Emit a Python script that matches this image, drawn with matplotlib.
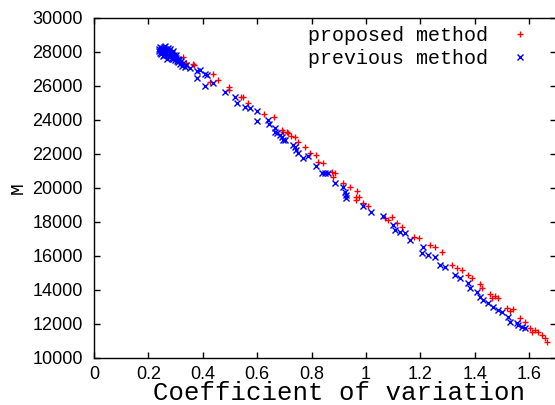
import matplotlib
matplotlib.use("Agg")
import matplotlib.pyplot as plt

# proposed method (red +)
prop_x = [0.305, 0.31, 0.322, 0.326, 0.337, 0.365, 0.368, 0.428, 0.439, 0.457,
          0.495, 0.498, 0.540, 0.549, 0.567, 0.626, 0.662, 0.690, 0.696, 0.708,
          0.714, 0.726, 0.739, 0.751, 0.775, 0.794, 0.818, 0.824, 0.843, 0.874,
          0.879, 0.886, 0.916, 0.941, 0.963, 0.965, 0.968, 0.975, 0.990, 1.008,
          1.070, 1.082, 1.095, 1.113, 1.131, 1.176, 1.196, 1.235, 1.254, 1.278,
          1.315, 1.333, 1.352, 1.376, 1.388, 1.419, 1.425, 1.456, 1.462, 1.474,
          1.486, 1.517, 1.529, 1.541, 1.566, 1.584, 1.603, 1.609, 1.621, 1.633,
          1.646, 1.658, 1.664]
prop_y = [27650, 27500, 27350, 27725, 27370, 27290, 27235, 26250, 26700, 26350,
          25765, 25920, 25335, 25370, 24980, 24350, 24160, 23410, 23310, 23310,
          23220, 23060, 23020, 22720, 22430, 22080, 21940, 21550, 21450, 20960,
          20630, 20900, 20275, 20040, 19490, 19295, 19840, 19490, 19135, 18940,
          18220, 18120, 18280, 17925, 17725, 17135, 17040, 16645, 16550, 16220,
          15470, 15275, 15180, 14880, 14690, 14335, 14100, 13750, 13510, 13665,
          13550, 12960, 12765, 12880, 12370, 12135, 11785, 11510, 11645, 11550,
          11355, 11160, 10960]

# previous method (blue x)
prev_x = [0.238, 0.240, 0.242, 0.244, 0.246, 0.248, 0.250, 0.252, 0.254, 0.256,
          0.258, 0.260, 0.262, 0.264, 0.266, 0.268, 0.270, 0.272, 0.274, 0.276,
          0.278, 0.280, 0.282, 0.284, 0.286, 0.288, 0.290, 0.292, 0.294, 0.296,
          0.298, 0.300, 0.303, 0.305, 0.308, 0.310, 0.313, 0.316, 0.320, 0.324,
          0.328, 0.333, 0.338, 0.262, 0.275, 0.285, 0.255, 0.268,
          0.353, 0.377, 0.378, 0.390, 0.408, 0.408, 0.414, 0.439, 0.482, 0.518,
          0.524, 0.555, 0.573, 0.601, 0.601, 0.641, 0.645, 0.665, 0.665, 0.674,
          0.684, 0.690, 0.696, 0.702, 0.733, 0.739, 0.743, 0.751, 0.769, 0.788,
          0.818, 0.837, 0.849, 0.861, 0.886, 0.914, 0.922, 0.926, 0.928, 0.990,
          1.020, 1.064, 1.101, 1.107, 1.125, 1.144, 1.162, 1.205, 1.211, 1.229,
          1.254, 1.272, 1.291, 1.327, 1.346, 1.376, 1.382, 1.407, 1.419, 1.431,
          1.450, 1.468, 1.486, 1.499, 1.523, 1.529, 1.554, 1.560, 1.572, 1.584]
prev_y = [28050, 28200, 27950, 28300, 28100, 27900, 28250, 28000, 28150, 27850,
          28300, 28050, 27950, 28200, 27800, 28100, 27900, 28250, 27700, 28000,
          27850, 28150, 27750, 27950, 27650, 27850, 28050, 27600, 27800, 27700,
          27500, 27650, 27800, 27450, 27600, 27400, 27550, 27300, 27450, 27200,
          27350, 27100, 27250, 28350, 28050, 27950, 27750, 27600,
          27060, 26865, 26470, 26940, 26700, 26000, 26650, 26200, 25665, 25370,
          24980, 24780, 24690, 24530, 23960, 24000, 23765, 23510, 23310, 23220,
          23120, 23020, 22825, 22825, 22530, 22430, 22235, 22040, 21745, 21880,
          21295, 20900, 20865, 20900, 20310, 20040, 19780, 19590, 19395, 18940,
          18610, 18350, 17820, 17530, 17430, 17335, 16940, 16160, 16550, 16060,
          15960, 15470, 15370, 14880, 14690, 14395, 14135, 13900, 13610, 13410,
          13220, 13020, 12825, 12690, 12430, 12135, 12040, 11940, 11845, 11750]

x_ticks = [0, 0.2, 0.4, 0.6, 0.8, 1, 1.2, 1.4, 1.6]
x_tick_labels = ["0", "0.2", "0.4", "0.6", "0.8", "1", "1.2", "1.4", "1.6"]
y_ticks = [10000, 12000, 14000, 16000, 18000, 20000, 22000, 24000, 26000, 28000, 30000]

fig = plt.figure(figsize=(5.55, 4.05), dpi=100)
ax = fig.add_axes([94/555, 1 - 358/405, (556.4 - 94)/555, (358 - 18)/405])

ax.plot(prop_x, prop_y, linestyle="none", marker="+", color="#ff0000",
        markersize=5, markeredgewidth=1.0, label="proposed method")
ax.plot(prev_x, prev_y, linestyle="none", marker="x", color="#0000ff",
        markersize=4.5, markeredgewidth=1.0, label="previous method")

ax.set_xlim(0, 1.7)
ax.set_ylim(10000, 30000)
ax.set_xticks(x_ticks)
ax.set_xticklabels(x_tick_labels)
ax.set_yticks(y_ticks)
ax.set_yticklabels([str(v) for v in y_ticks])

for lab in ax.get_xticklabels() + ax.get_yticklabels():
    lab.set_fontfamily("Liberation Sans")
    lab.set_fontsize(13)

ax.tick_params(direction="in", length=4, width=1, top=True, right=True,
               colors="black")
ax.tick_params(axis="x", pad=6)
ax.tick_params(axis="y", pad=8)
for sp in ax.spines.values():
    sp.set_linewidth(1.0)

ax.set_xlabel("Coefficient of variation", fontfamily="Liberation Mono",
              fontsize=18.5)
ax.xaxis.set_label_coords((339 - 94) / 462.4, -0.069)
ax.set_ylabel("M", fontfamily="Liberation Mono", fontsize=14, labelpad=4)

leg = ax.legend(loc="upper right", bbox_to_anchor=(532/555, 1 - 26/405),
                bbox_transform=fig.transFigure, frameon=False,
                markerfirst=False, prop={"family": "Liberation Mono", "size": 14.4},
                handlelength=1.2, handletextpad=1.0, labelspacing=0.2,
                borderpad=0, borderaxespad=0)

fig.savefig("out.png", dpi=100)
